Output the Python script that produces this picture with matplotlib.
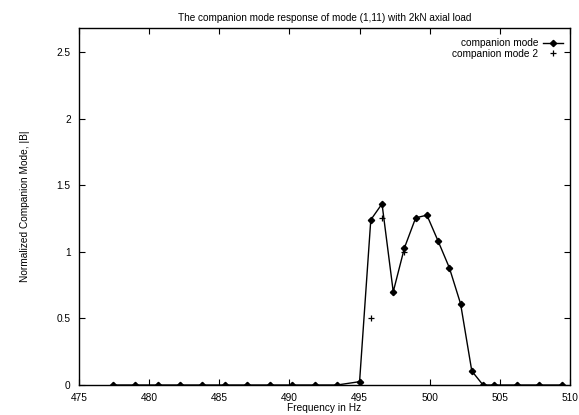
import matplotlib
matplotlib.use("Agg")
import matplotlib.pyplot as plt

plt.rcParams['font.family'] = ['Liberation Sans', 'DejaVu Sans']

freq = [477.4, 479.0, 480.6, 482.2, 483.8, 485.4, 487.0, 488.6, 490.2, 491.8,
        493.4, 495.0, 495.8, 496.6, 497.4, 498.2, 499.0, 499.8, 500.6, 501.4,
        502.2, 503.0, 503.8, 504.6, 506.2, 507.8, 509.4]
mode1 = [0, 0, 0, 0, 0, 0, 0, 0, 0, 0,
         0, 0.025, 1.24, 1.36, 0.70, 1.03, 1.255, 1.275, 1.08, 0.88,
         0.61, 0.105, 0, 0, 0, 0, 0]
mode2 = [0, 0, 0, 0, 0, 0, 0, 0, 0, 0,
         0, 0.025, 0.50, 1.25, 0.70, 1.00, 1.255, 1.275, 1.08, 0.88,
         0.61, 0.105, 0, 0, 0, 0, 0]
xticks = [475, 480, 485, 490, 495, 500, 505, 510]
yticks = [0, 0.5, 1, 1.5, 2, 2.5]
yticklabels = ['0', '0.5', '1', '1.5', '2', '2.5']

fig = plt.figure(figsize=(5.79, 4.15), dpi=100)
ax = fig.add_axes([79/579, 1-385/415, (570-79)/579, (385-28)/415])

ax.plot(freq, mode1, color='black', lw=1.0, marker='D', ms=3.2,
        label='companion mode')
ax.plot(freq, mode2, color='black', lw=0, marker='+', ms=4.5, mew=0.9,
        label='companion mode 2')

ax.set_xlim(475, 510)
ax.set_ylim(0, 2.68)
ax.set_xticks(xticks)
ax.set_yticks(yticks)
ax.set_yticklabels(yticklabels)
ax.tick_params(direction='in', top=True, right=True, length=4, width=0.8,
               labelsize=7.3)
ax.tick_params(axis='x', pad=6)
ax.tick_params(axis='y', pad=6)
for s in ax.spines.values():
    s.set_linewidth(1.0)

ax.set_title('The companion mode response of mode (1,11) with 2kN axial load',
             fontsize=7.2, pad=5)
ax.set_xlabel('Frequency in Hz', fontsize=7.3, labelpad=0)
ax.set_ylabel('Normalized Companion Mode, |B|', fontsize=7.3, labelpad=19)

ax.legend(loc='upper right', bbox_to_anchor=(1.0, 0.99), frameon=False,
          markerfirst=False, fontsize=7.3, handlelength=2.0,
          handletextpad=0.5, labelspacing=0.05, borderaxespad=0.25)

fig.savefig('out.png', dpi=100)
